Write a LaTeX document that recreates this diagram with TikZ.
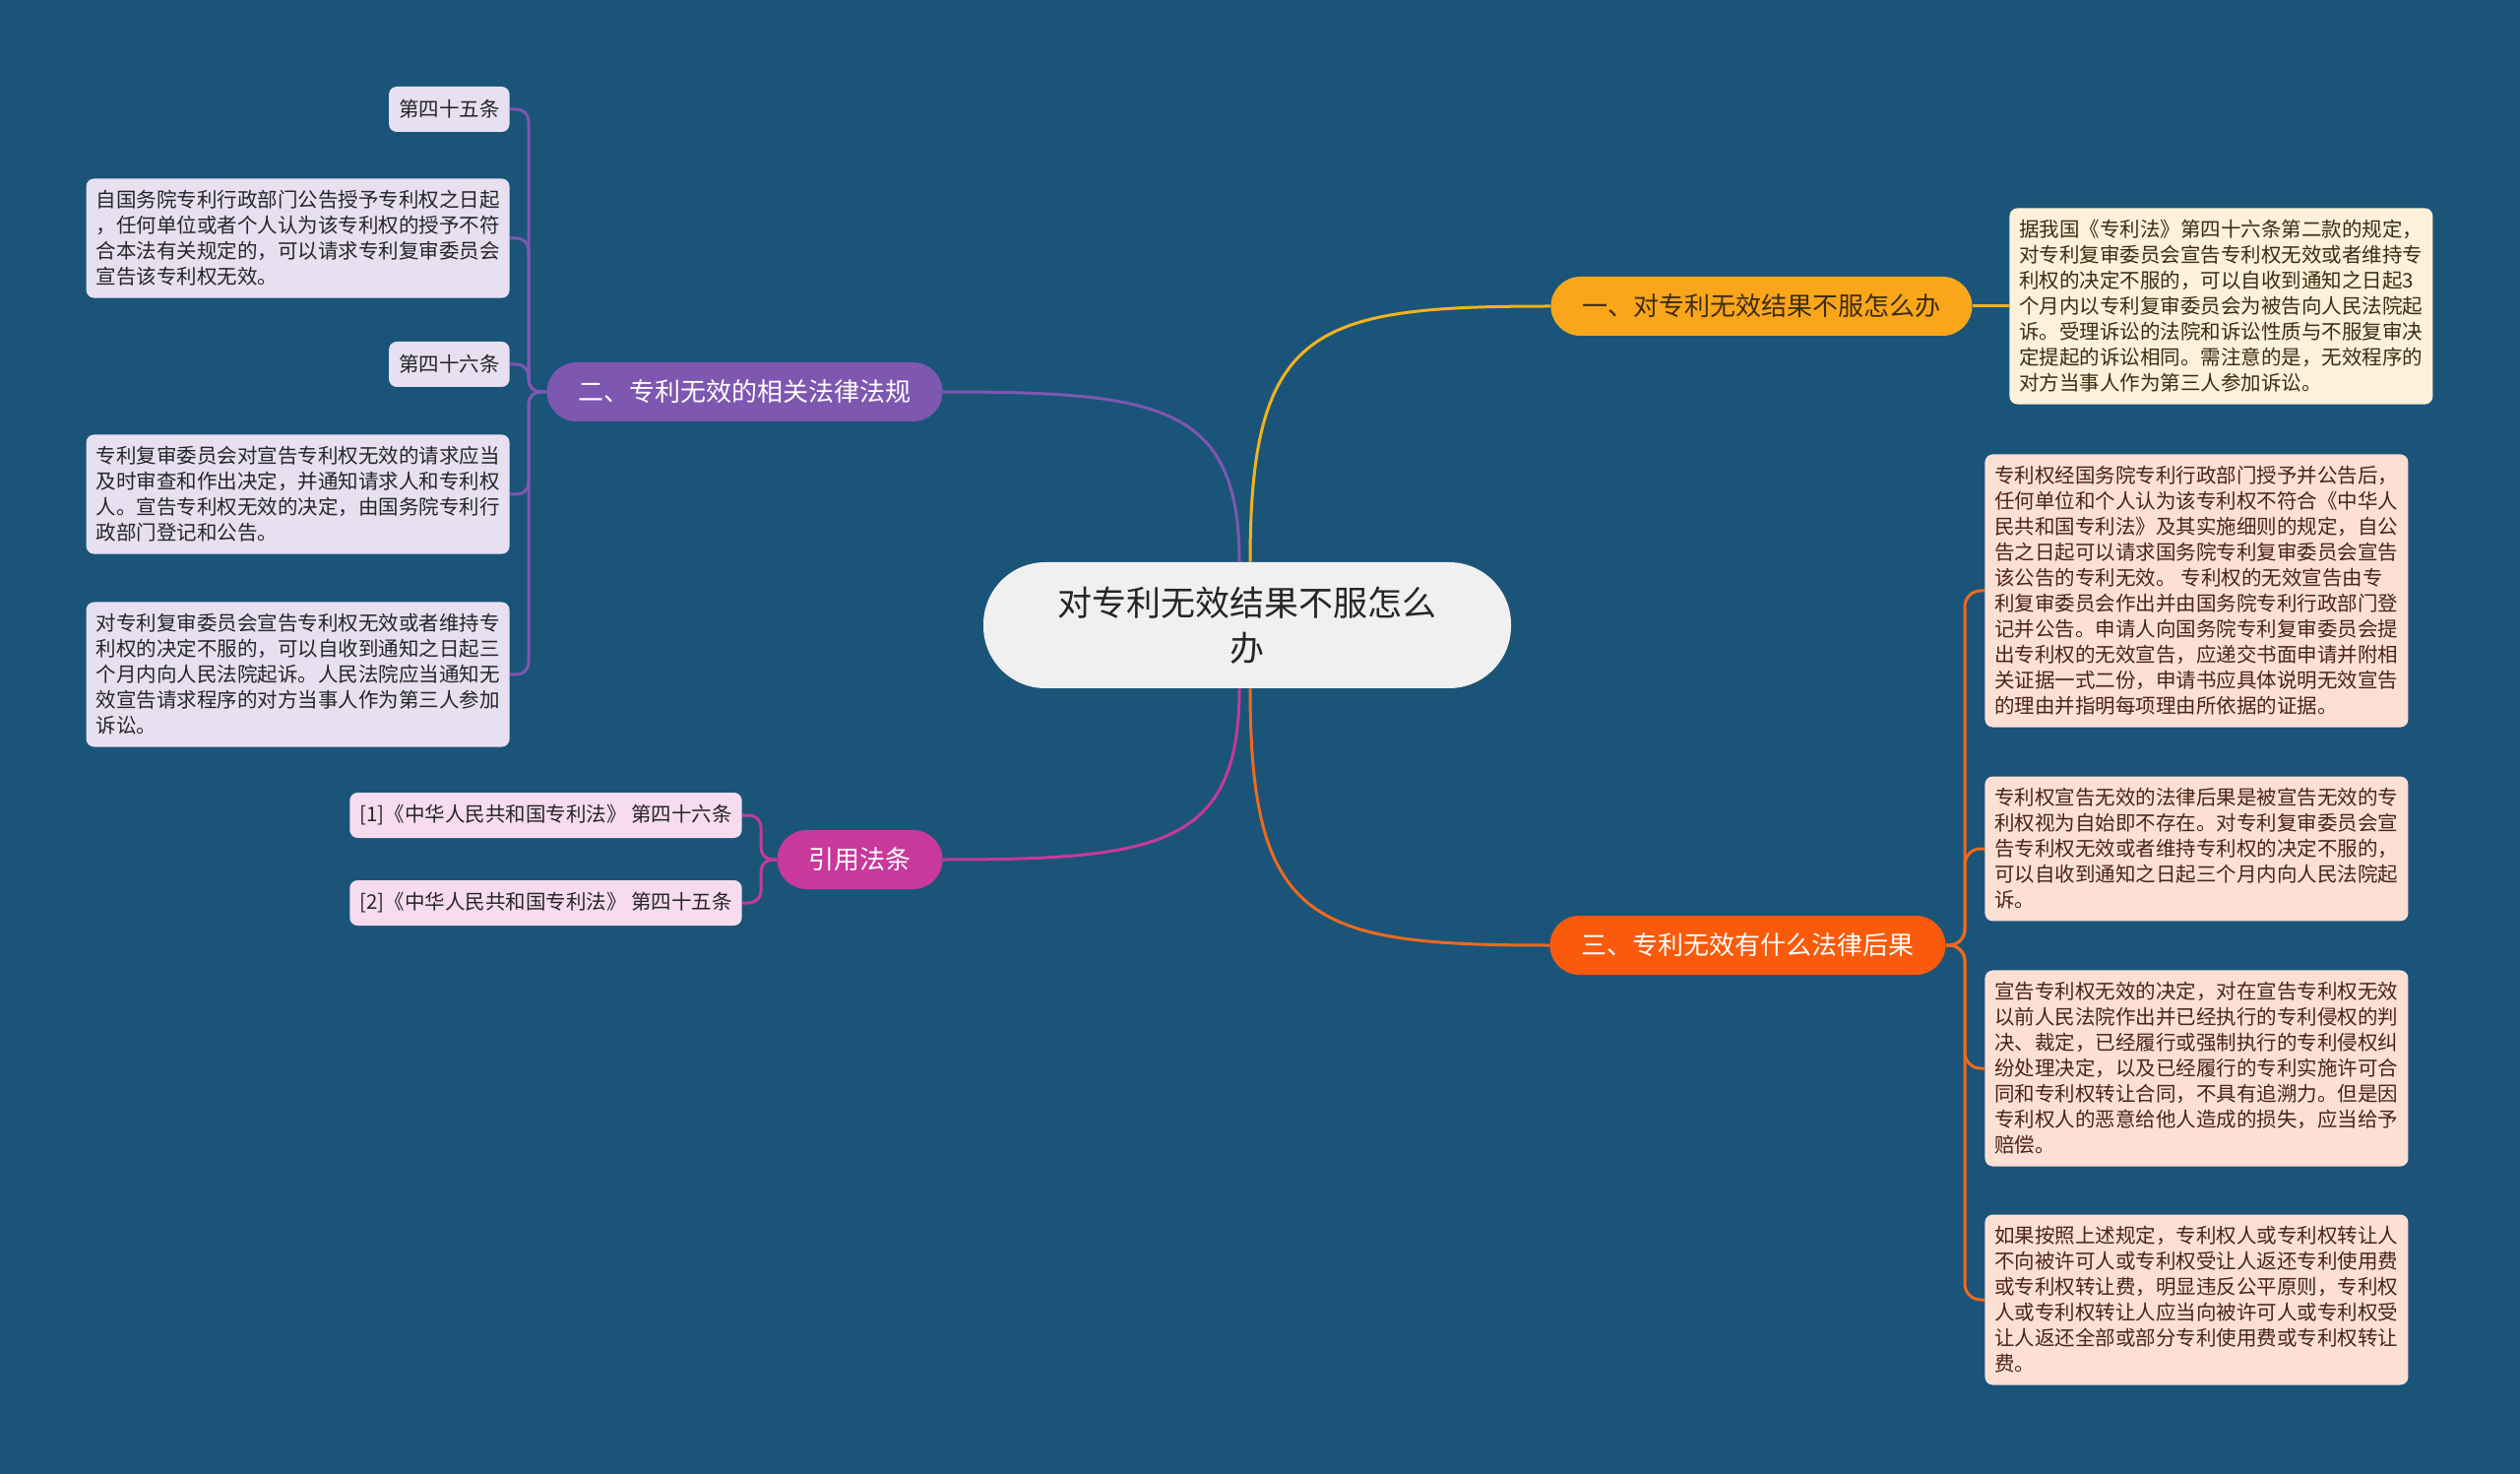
\documentclass[tikz,border=0pt]{standalone}
\usepackage{fontspec}
\setmainfont{Noto Sans CJK SC}
\usepackage{xcolor}
\usepackage{tikz}
\usetikzlibrary{positioning}
\definecolor{bgblue}{HTML}{1B5479}
\definecolor{rootfill}{HTML}{F0F0F0}
\definecolor{topicA}{HTML}{FAA61A}
\definecolor{topicB}{HTML}{7E57B1}
\definecolor{topicC}{HTML}{FA5A0C}
\definecolor{topicD}{HTML}{C8399B}
\definecolor{leafA}{HTML}{FEF1D9}
\definecolor{leafB}{HTML}{E6E0F1}
\definecolor{leafC}{HTML}{FDE0D3}
\definecolor{leafD}{HTML}{F6DCEE}
\definecolor{lineA}{HTML}{F3B21C}
\definecolor{lineC}{HTML}{EE6A1E}
\definecolor{inkA}{HTML}{3D2C14}
\definecolor{inkC}{HTML}{4A2418}

\begin{document}
\begin{tikzpicture}[x=0.5pt, y=-0.5pt, every node/.style={inner sep=0pt},
  root/.style={fill=rootfill, rounded corners=31.5pt, minimum width=268pt, minimum height=64pt,
    align=center, text=black!85, font=\fontsize{17.5pt}{23pt}\selectfont},
  topic/.style={rounded corners=15pt, minimum height=30pt, inner xsep=16pt, font=\fontsize{13pt}{15pt}\selectfont},
  leaf/.style={rounded corners=4pt, align=left, inner xsep=5pt, inner ysep=6pt, minimum height=23pt,
    font=\fontsize{10.25pt}{13pt}\selectfont},
  link/.style={line width=1.5pt}]
\fill[bgblue] (0,0) rectangle (2560,1497);
\useasboundingbox (0,0) rectangle (2560,1497);

\node[root] (root) at (1267,635) {对专利无效结果不服怎么\\办};

\node[topic, fill=topicA, text=inkA, anchor=west] (t1) at (1575,311) {一、对专利无效结果不服怎么办};
\node[topic, fill=topicB, text=white, anchor=east] (t2) at (958,398) {二、专利无效的相关法律法规};
\node[topic, fill=topicC, text=white, anchor=west] (t3) at (1574,960) {三、专利无效有什么法律后果};
\node[topic, fill=topicD, text=white, anchor=east] (t4) at (958,873) {引用法条};

\node[leaf, fill=leafA, text=inkA, anchor=west] (a1) at (2041,311) {据我国《专利法》第四十六条第二款的规定，\\
对专利复审委员会宣告专利权无效或者维持专\\
利权的决定不服的，可以自收到通知之日起3\\
个月内以专利复审委员会为被告向人民法院起\\
诉。受理诉讼的法院和诉讼性质与不服复审决\\
定提起的诉讼相同。需注意的是，无效程序的\\
对方当事人作为第三人参加诉讼。};

\node[leaf, fill=leafB, text=black!85, anchor=east] (b1) at (518,111) {第四十五条};
\node[leaf, fill=leafB, text=black!85, anchor=east] (b2) at (518,242) {自国务院专利行政部门公告授予专利权之日起\\
，任何单位或者个人认为该专利权的授予不符\\
合本法有关规定的，可以请求专利复审委员会\\
宣告该专利权无效。};
\node[leaf, fill=leafB, text=black!85, anchor=east] (b3) at (518,370) {第四十六条};
\node[leaf, fill=leafB, text=black!85, anchor=east] (b4) at (518,502) {专利复审委员会对宣告专利权无效的请求应当\\
及时审查和作出决定，并通知请求人和专利权\\
人。宣告专利权无效的决定，由国务院专利行\\
政部门登记和公告。};
\node[leaf, fill=leafB, text=black!85, anchor=east] (b5) at (518,685) {对专利复审委员会宣告专利权无效或者维持专\\
利权的决定不服的，可以自收到通知之日起三\\
个月内向人民法院起诉。人民法院应当通知无\\
效宣告请求程序的对方当事人作为第三人参加\\
诉讼。};

\node[leaf, fill=leafC, text=inkC, anchor=west] (c1) at (2016,600) {专利权经国务院专利行政部门授予并公告后，\\
任何单位和个人认为该专利权不符合《中华人\\
民共和国专利法》及其实施细则的规定，自公\\
告之日起可以请求国务院专利复审委员会宣告\\
该公告的专利无效。 专利权的无效宣告由专\\
利复审委员会作出并由国务院专利行政部门登\\
记并公告。申请人向国务院专利复审委员会提\\
出专利权的无效宣告，应递交书面申请并附相\\
关证据一式二份，申请书应具体说明无效宣告\\
的理由并指明每项理由所依据的证据。};
\node[leaf, fill=leafC, text=inkC, anchor=west] (c2) at (2016,862) {专利权宣告无效的法律后果是被宣告无效的专\\
利权视为自始即不存在。对专利复审委员会宣\\
告专利权无效或者维持专利权的决定不服的，\\
可以自收到通知之日起三个月内向人民法院起\\
诉。};
\node[leaf, fill=leafC, text=inkC, anchor=west] (c3) at (2016,1085) {宣告专利权无效的决定，对在宣告专利权无效\\
以前人民法院作出并已经执行的专利侵权的判\\
决、裁定，已经履行或强制执行的专利侵权纠\\
纷处理决定，以及已经履行的专利实施许可合\\
同和专利权转让合同，不具有追溯力。但是因\\
专利权人的恶意给他人造成的损失，应当给予\\
赔偿。};
\node[leaf, fill=leafC, text=inkC, anchor=west] (c4) at (2016,1320) {如果按照上述规定，专利权人或专利权转让人\\
不向被许可人或专利权受让人返还专利使用费\\
或专利权转让费，明显违反公平原则，专利权\\
人或专利权转让人应当向被许可人或专利权受\\
让人返还全部或部分专利使用费或专利权转让\\
费。};

\node[leaf, fill=leafD, text=black!85, anchor=east, minimum width=199pt] (d1) at (754,828) {[1]《中华人民共和国专利法》 第四十六条};
\node[leaf, fill=leafD, text=black!85, anchor=east, minimum width=199pt] (d2) at (754,917) {[2]《中华人民共和国专利法》 第四十五条};

\draw[link, lineA] ([xshift=1.5pt]root.north) .. controls +(0,-240) and +(-240,0) .. (t1.west);
\draw[link, topicB] ([xshift=-4pt]root.north) .. controls +(0,-160) and +(220,0) .. (t2.east);
\draw[link, lineC] ([xshift=1.5pt]root.south) .. controls +(0,240) and +(-240,0) .. (t3.west);
\draw[link, topicD] ([xshift=-4pt]root.south) .. controls +(0,160) and +(220,0) .. (t4.east);

\draw[link, lineA] (t1.east) -- (a1.west);
\foreach \n in {b1,b2,b3,b4,b5}
  \draw[link, topicB, rounded corners=6pt] (t2.west) -| ([xshift=9.5pt]\n.east) -- (\n.east);
\foreach \n in {c1,c2,c3,c4}
  \draw[link, lineC, rounded corners=8pt] (t3.east) -| ([xshift=-10pt]\n.west) -- (\n.west);
\foreach \n in {d1,d2}
  \draw[link, topicD, rounded corners=6pt] (t4.west) -| ([xshift=9.5pt]\n.east) -- (\n.east);
\end{tikzpicture}
\end{document}
